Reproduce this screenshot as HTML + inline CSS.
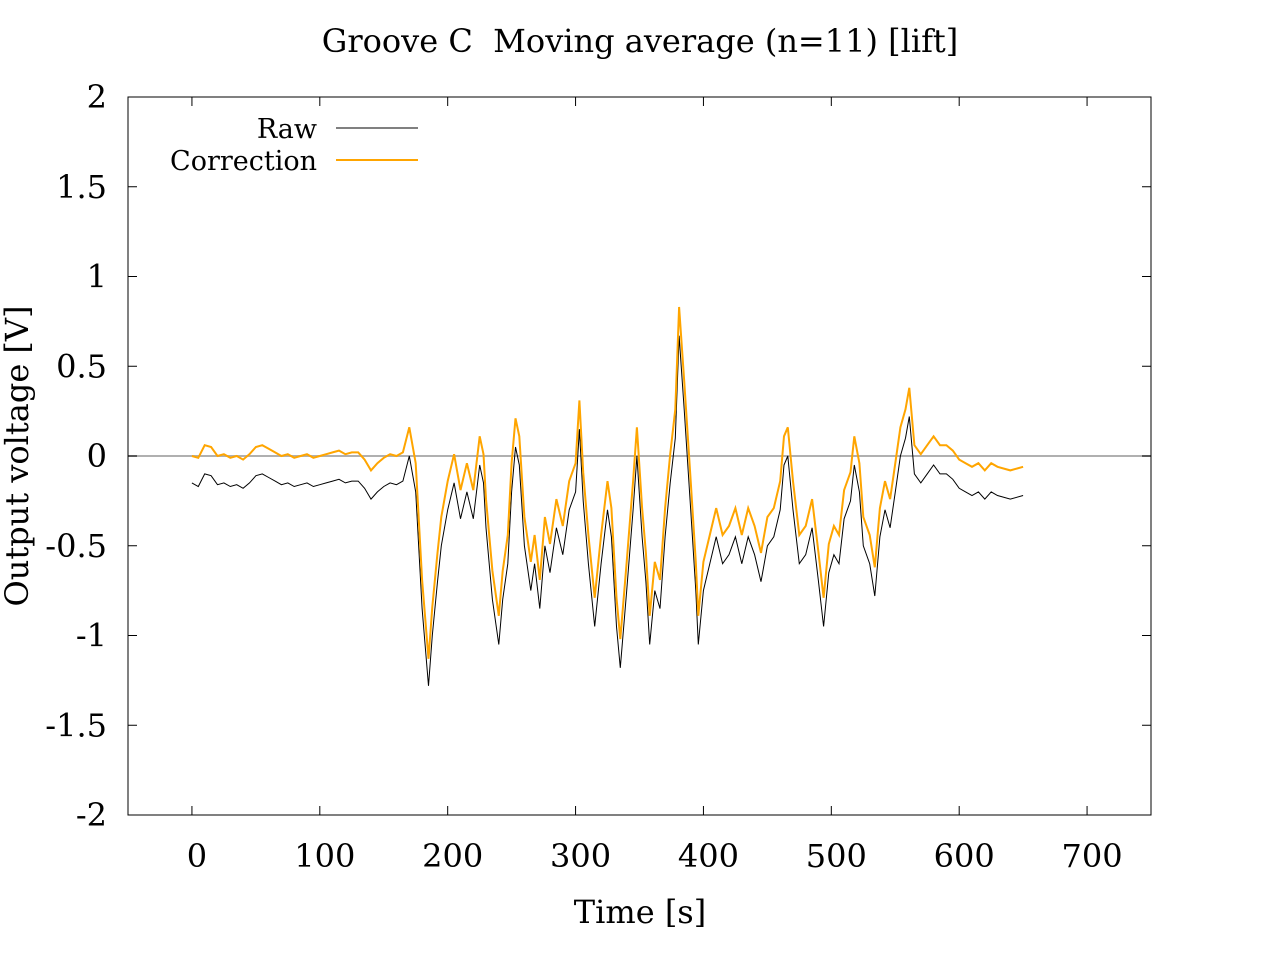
<!DOCTYPE html>
<html><head><meta charset="utf-8"><style>
body{margin:0;background:#fff}
svg text{font-family:"DejaVu Serif","Liberation Serif",serif;fill:#000;white-space:pre}
</style></head><body>
<svg id="chart" width="1280" height="960" xmlns="http://www.w3.org/2000/svg">
<rect width="1280" height="960" fill="#fff"/>
<text x="640" y="52" font-size="32" text-anchor="middle" xml:space="preserve">Groove C  Moving average (n=11) [lift]</text>
<g id="axes"></g>
<g id="series"></g>
<text x="640" y="923" font-size="32" text-anchor="middle">Time [s]</text>
<text transform="translate(28,456) rotate(-90)" font-size="32" text-anchor="middle">Output voltage [V]</text>
<g>
<text x="317" y="138" font-size="27" text-anchor="end">Raw</text>
<line x1="336" y1="128" x2="418" y2="128" stroke="#000" stroke-width="1"/>
<text x="317" y="170" font-size="27" text-anchor="end">Correction</text>
<line x1="336" y1="160" x2="418" y2="160" stroke="#ffa500" stroke-width="2"/>
</g>
</svg>
<script>
const times=[0,5,10,15,20,25,30,35,40,45,50,55,60,65,70,75,80,85,90,95,100,105,110,115,120,125,130,135,140,145,150,155,160,165,170,175,180,185,188,192,195,200,205,210,215,220,225,228,230,235,240,243,247,250,253,256,260,265,268,272,276,280,285,290,295,300,303,306,310,315,320,325,328,332,335,340,345,348,352,355,358,362,366,370,374,378,381,385,390,394,396,400,405,410,415,420,425,430,435,440,445,450,455,460,463,466,470,475,480,485,490,494,498,502,506,510,515,518,522,525,530,534,538,542,546,550,554,558,561,565,570,575,580,585,590,595,600,605,610,615,620,625,630,640,650];
const raw=[-0.15,-0.17,-0.10,-0.11,-0.16,-0.15,-0.17,-0.16,-0.18,-0.15,-0.11,-0.10,-0.12,-0.14,-0.16,-0.15,-0.17,-0.16,-0.15,-0.17,-0.16,-0.15,-0.14,-0.13,-0.15,-0.14,-0.14,-0.18,-0.24,-0.20,-0.17,-0.15,-0.16,-0.14,0.0,-0.2,-0.85,-1.28,-1.0,-0.7,-0.5,-0.3,-0.15,-0.35,-0.2,-0.35,-0.05,-0.15,-0.4,-0.8,-1.05,-0.8,-0.6,-0.2,0.05,-0.05,-0.5,-0.75,-0.6,-0.85,-0.5,-0.65,-0.4,-0.55,-0.3,-0.2,0.15,-0.25,-0.6,-0.95,-0.6,-0.3,-0.45,-0.95,-1.18,-0.75,-0.3,0.0,-0.45,-0.7,-1.05,-0.75,-0.85,-0.45,-0.15,0.1,0.67,0.25,-0.3,-0.75,-1.05,-0.75,-0.6,-0.45,-0.6,-0.55,-0.45,-0.6,-0.45,-0.55,-0.7,-0.5,-0.45,-0.3,-0.05,0.0,-0.3,-0.6,-0.55,-0.4,-0.7,-0.95,-0.65,-0.55,-0.6,-0.35,-0.25,-0.05,-0.2,-0.5,-0.6,-0.78,-0.45,-0.3,-0.4,-0.2,0.0,0.1,0.22,-0.1,-0.15,-0.1,-0.05,-0.1,-0.1,-0.13,-0.18,-0.2,-0.22,-0.2,-0.24,-0.2,-0.22,-0.24,-0.22];
const correction=[0.0,-0.01,0.06,0.05,0.0,0.01,-0.01,0.0,-0.02,0.01,0.05,0.06,0.04,0.02,0.0,0.01,-0.01,0.0,0.01,-0.01,0.0,0.01,0.02,0.03,0.01,0.02,0.02,-0.02,-0.08,-0.04,-0.01,0.01,0.0,0.02,0.16,-0.04,-0.69,-1.13,-0.84,-0.54,-0.34,-0.14,0.01,-0.19,-0.04,-0.19,0.11,0.01,-0.24,-0.64,-0.89,-0.64,-0.44,-0.04,0.21,0.11,-0.34,-0.59,-0.44,-0.69,-0.34,-0.49,-0.24,-0.39,-0.14,-0.04,0.31,-0.09,-0.44,-0.79,-0.44,-0.14,-0.29,-0.79,-1.02,-0.59,-0.14,0.16,-0.29,-0.54,-0.89,-0.59,-0.69,-0.29,0.01,0.26,0.83,0.41,-0.14,-0.59,-0.89,-0.59,-0.44,-0.29,-0.44,-0.39,-0.29,-0.44,-0.29,-0.39,-0.54,-0.34,-0.29,-0.14,0.11,0.16,-0.14,-0.44,-0.39,-0.24,-0.54,-0.79,-0.49,-0.39,-0.44,-0.19,-0.09,0.11,-0.04,-0.34,-0.44,-0.62,-0.29,-0.14,-0.24,-0.04,0.16,0.26,0.38,0.06,0.01,0.06,0.11,0.06,0.06,0.03,-0.02,-0.04,-0.06,-0.04,-0.08,-0.04,-0.06,-0.08,-0.06];
const xTicks=[0,100,200,300,400,500,600,700];
const yTicks=[2,1.5,1,0.5,0,-0.5,-1,-1.5,-2];
const L=128,R=1151,T=97,B=815;
function sx(t){return L+(t+50)/800*(R-L);}
function sy(v){return T+(2-v)/4*(B-T);}
const NS='http://www.w3.org/2000/svg';
const ax=document.getElementById('axes'),se=document.getElementById('series');
function mk(tag,at,p){const e=document.createElementNS(NS,tag);for(const k in at)e.setAttribute(k,at[k]);p.appendChild(e);return e;}
const zl=mk('line',{x1:L,x2:R,y1:sy(0),y2:sy(0),stroke:'#b0b0b0','stroke-width':2},ax);


xTicks.forEach(t=>{const x=sx(t);
 mk('line',{x1:x,x2:x,y1:B,y2:B-9,stroke:'#000'},ax);
 mk('line',{x1:x,x2:x,y1:T,y2:T+9,stroke:'#000'},ax);
 const tx=mk('text',{x:x+5,y:867,'font-size':32,'text-anchor':'middle'},ax);tx.textContent=t;
 
 
});
yTicks.forEach(v=>{const y=sy(v);
 mk('line',{x1:L,x2:L+9,y1:y,y2:y,stroke:'#000'},ax);
 mk('line',{x1:R,x2:R-9,y1:y,y2:y,stroke:'#000'},ax);
 const tx=mk('text',{x:107,y:y+11,'font-size':32,'text-anchor':'end'},ax);tx.textContent=v;
 
 
});
const fr=mk('rect',{x:L,y:T,width:R-L,height:B-T,fill:'none',stroke:'#000'},ax);


function pts(a){return times.map((t,i)=>sx(t).toFixed(1)+','+sy(a[i]).toFixed(1)).join(' ');}
const p1=mk('polyline',{points:pts(raw),fill:'none',stroke:'#000','stroke-width':1},se);


const p2=mk('polyline',{points:pts(correction),fill:'none',stroke:'#ffa500','stroke-width':2},se);


</script>
</body></html>
